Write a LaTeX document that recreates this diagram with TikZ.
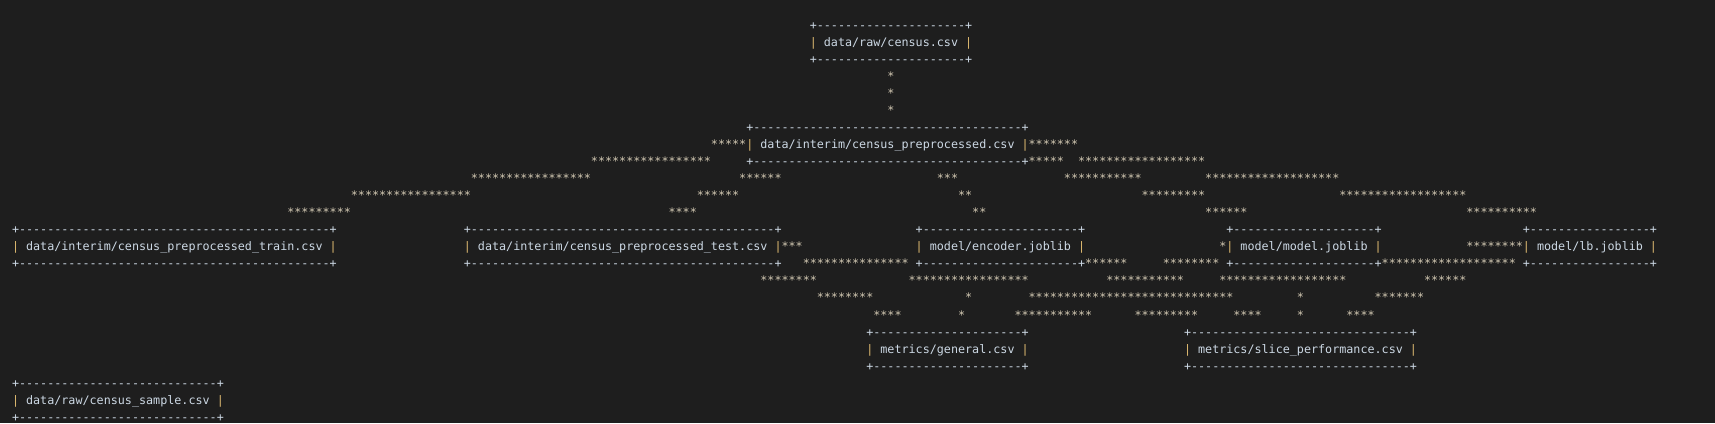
\documentclass[tikz,border=0pt]{standalone}
\usepackage{fontspec}
\setmonofont{DejaVu Sans Mono}
\usepackage{tikz}
\definecolor{bg}{RGB}{30,30,30}
\definecolor{ink}{RGB}{204,216,228}
\definecolor{gold}{RGB}{222,186,112}
\definecolor{starc}{RGB}{212,202,180}
\newcommand\termfont{\ttfamily\fontsize{5.864pt}{8.515pt}\selectfont}
\newcommand\rep[2]{\foreach\k in {1,...,#1}{#2}}
% box of three text rows: name, column, row, inner width, label
\newcommand\filebox[5]{%
  \node[term] (#1-top) at (#2,#3) {+\rep{#4}{-}+};
  \node[pipe] (#1-l) at (#2,#3+1) {|};
  \node[term] (#1) at (#2+2,#3+1) {#5};
  \node[pipe] (#1-r) at (#2+#4+1,#3+1) {|};
  \node[term] (#1-bot) at (#2,#3+2) {+\rep{#4}{-}+};}
% run of stars: name, column, row, count
\newcommand\run[4]{\node[starrun] (#1) at (#2,#3) {\rep{#4}{*}};}

\begin{document}
\begin{tikzpicture}[x=3.53pt,y=-8.515pt,
    term/.style={anchor=base west,inner sep=0pt,outer sep=0pt,font=\termfont,text=ink},
    pipe/.style={term,text=gold},
    starrun/.style={term,text=starc}]
  \fill[bg] (-1.70,-1.732) rectangle (241.21,23.106);
  \useasboundingbox (-1.70,-1.732) rectangle (241.21,23.106);

  % edges first, boxes on top
  \run{s3}{124}{3}{1}
  \run{s4}{124}{4}{1}
  \run{s5}{124}{5}{1}

  \run{s7a}{99}{7}{5}
  \run{s7b}{144}{7}{7}
  \run{s8a}{82}{8}{17}
  \run{s8b}{144}{8}{5}
  \run{s8c}{151}{8}{18}
  \run{s9a}{65}{9}{17}
  \run{s9b}{103}{9}{6}
  \run{s9c}{131}{9}{3}
  \run{s9d}{149}{9}{11}
  \run{s9e}{169}{9}{19}
  \run{s10a}{48}{10}{17}
  \run{s10b}{97}{10}{6}
  \run{s10c}{134}{10}{2}
  \run{s10d}{160}{10}{9}
  \run{s10e}{188}{10}{18}
  \run{s11a}{39}{11}{9}
  \run{s11b}{93}{11}{4}
  \run{s11c}{136}{11}{2}
  \run{s11d}{169}{11}{6}
  \run{s11e}{206}{11}{10}

  \run{s13a}{109}{13}{3}
  \run{s13b}{171}{13}{1}
  \run{s13c}{206}{13}{8}
  \run{s14a}{112}{14}{15}
  \run{s14b}{152}{14}{6}
  \run{s14c}{163}{14}{8}
  \run{s14d}{194}{14}{19}
  \run{s15a}{106}{15}{8}
  \run{s15b}{127}{15}{17}
  \run{s15c}{155}{15}{11}
  \run{s15d}{171}{15}{18}
  \run{s15e}{200}{15}{6}
  \run{s16a}{114}{16}{8}
  \run{s16b}{135}{16}{1}
  \run{s16c}{144}{16}{29}
  \run{s16d}{182}{16}{1}
  \run{s16e}{193}{16}{7}
  \run{s17a}{122}{17}{4}
  \run{s17b}{134}{17}{1}
  \run{s17c}{142}{17}{11}
  \run{s17d}{159}{17}{9}
  \run{s17e}{173}{17}{4}
  \run{s17f}{182}{17}{1}
  \run{s17g}{189}{17}{4}

  \filebox{raw}{113}{0}{21}{data/raw/census.csv}
  \filebox{interim}{104}{6}{38}{data/interim/census\_preprocessed.csv}
  \filebox{train}{0}{12}{44}{data/interim/census\_preprocessed\_train.csv}
  \filebox{test}{64}{12}{43}{data/interim/census\_preprocessed\_test.csv}
  \filebox{encoder}{128}{12}{22}{model/encoder.joblib}
  \filebox{model}{172}{12}{20}{model/model.joblib}
  \filebox{lb}{214}{12}{17}{model/lb.joblib}
  \filebox{general}{121}{18}{21}{metrics/general.csv}
  \filebox{slice}{166}{18}{31}{metrics/slice\_performance.csv}
  \filebox{sample}{0}{21}{28}{data/raw/census\_sample.csv}
\end{tikzpicture}
\end{document}
